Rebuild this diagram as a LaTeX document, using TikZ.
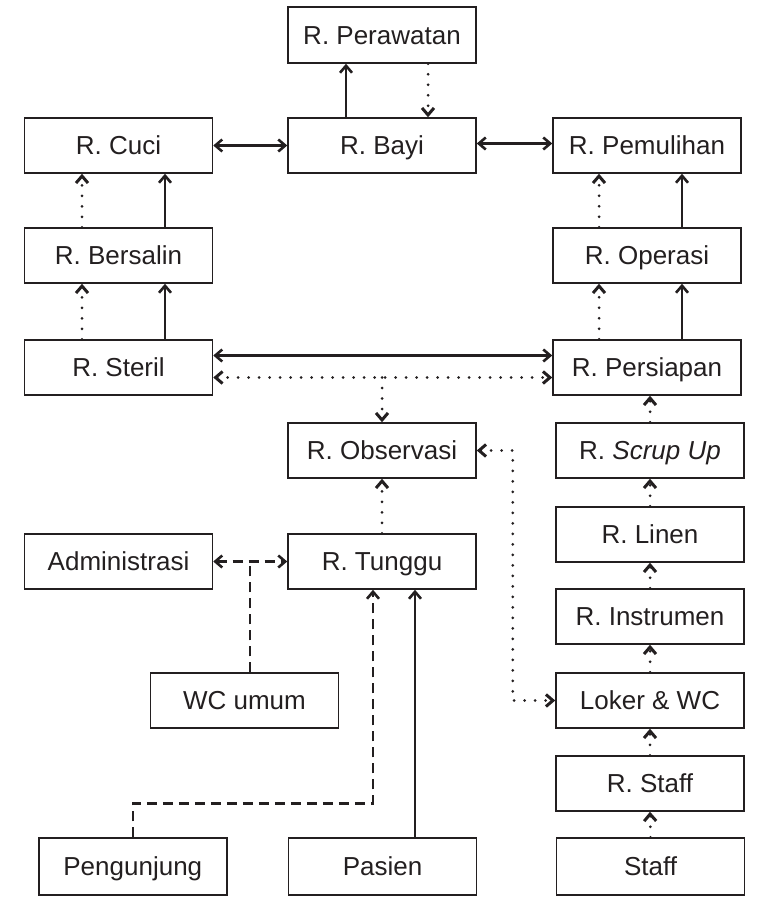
\documentclass[tikz,border=0pt]{standalone}
\usepackage{fontspec}
\setmainfont{Liberation Sans}
\usetikzlibrary{arrows.meta}
\definecolor{ink}{HTML}{231F20}
\begin{document}
\begin{tikzpicture}[x=1pt,y=-1pt,
  >={Straight Barb[length=7pt,width=12pt]},
  room/.style={draw=ink, text=ink, line width=1.5pt, minimum width=188pt,
    minimum height=55pt, inner sep=0pt,
    font=\fontsize{26}{30}\selectfont, text height=18.6pt, text depth=0pt},
  flow/.style={draw=ink, line width=2.6pt},
  dotflow/.style={draw=ink, line width=3pt, line cap=round,
    dash pattern=on 0pt off 10.5pt},
  dashflow/.style={draw=ink, line width=2.6pt, dash pattern=on 10pt off 6pt}]

\useasboundingbox (0,0) rectangle (763,899);

% rooms
\node[room, minimum height=56pt] (perawatan) at (382,35) {R. Perawatan};
\node[room] (cuci)      at (118.5,145.5) {R. Cuci};
\node[room] (bayi)      at (382,145.5)   {R. Bayi};
\node[room] (pemulihan) at (647,145.5)   {R. Pemulihan};
\node[room] (bersalin)  at (118.5,255.5) {R. Bersalin};
\node[room] (operasi)   at (647,255.5)   {R. Operasi};
\node[room] (steril)    at (118.5,367.5) {R. Steril};
\node[room] (persiapan) at (647,367.5)   {R. Persiapan};
\node[room] (observasi) at (382,450.5)   {R. Observasi};
\node[room] (scrup)     at (650,450.5)   {R. \textit{Scrup Up}};
\node[room] (linen)     at (650,534.5)   {R. Linen};
\node[room] (admin)     at (118.5,561.5) {Administrasi};
\node[room] (tunggu)    at (382,561.5)   {R. Tunggu};
\node[room] (instrumen) at (650,616.5)   {R. Instrumen};
\node[room] (wc)        at (244.5,700.5) {WC umum};
\node[room] (loker)     at (650,700.5)   {Loker \& WC};
\node[room] (rstaff)    at (650,783.5)   {R. Staff};
\node[room, minimum height=57pt] (pengunjung) at (132.8,866.5) {Pengunjung};
\node[room, minimum height=57pt] (pasien)     at (382.5,866.5) {Pasien};
\node[room, minimum height=57pt] (staff)      at (650.5,866.5) {Staff};

% top block
\draw[flow, ->] ([xshift=-36pt]bayi.north) -- ([xshift=-36pt]perawatan.south);
\draw[dotflow, ->] ([xshift=46pt]perawatan.south) -- ([xshift=46pt]bayi.north);
\draw[flow, <->] (cuci.east) -- (bayi.west);
\draw[flow, <->] ([yshift=2pt]bayi.east) -- ([yshift=2pt]pemulihan.west);

% left column
\draw[dotflow, ->] ([xshift=-36.5pt]bersalin.north) -- ([xshift=-36.5pt]cuci.south);
\draw[flow, ->] ([xshift=46.5pt]bersalin.north) -- ([xshift=46.5pt]cuci.south);
\draw[dotflow, ->] ([xshift=-36.5pt]steril.north) -- ([xshift=-36.5pt]bersalin.south);
\draw[flow, ->] ([xshift=46.5pt]steril.north) -- ([xshift=46.5pt]bersalin.south);

% right column, upper part
\draw[dotflow, ->] ([xshift=-48pt]operasi.north) -- ([xshift=-48pt]pemulihan.south);
\draw[flow, ->] ([xshift=35pt]operasi.north) -- ([xshift=35pt]pemulihan.south);
\draw[dotflow, ->] ([xshift=-48pt]persiapan.north) -- ([xshift=-48pt]operasi.south);
\draw[flow, ->] ([xshift=35pt]persiapan.north) -- ([xshift=35pt]operasi.south);

% steril <-> persiapan, with a branch down to observasi
\draw[flow, <->] ([yshift=12pt]steril.east) -- ([yshift=12pt]persiapan.west);
\coordinate (sd) at ([yshift=-10pt]steril.east);
\draw[dotflow, <->] (sd) -- (sd -| persiapan.west);
\draw[dotflow, ->] (sd -| observasi.north) -- (observasi.north);

% staff route
\draw[dotflow, ->] (scrup.north) -- (scrup.north |- persiapan.south);
\draw[dotflow, ->] (linen.north) -- (scrup.south);
\draw[dotflow, ->] (instrumen.north) -- (linen.south);
\draw[dotflow, ->] (loker.north) -- (instrumen.south);
\draw[dotflow, ->] (rstaff.north) -- (loker.south);
\draw[dotflow, ->] (staff.north) -- (rstaff.south);
\draw[dotflow, <->] (observasi.east) -- ([xshift=36pt]observasi.east) |- (loker.west);

% visitor and patient route
\draw[dotflow, ->] (tunggu.north) -- (observasi.south);
\draw[dashflow, <->] (admin.east) -- (tunggu.west);
\coordinate (wctop) at ([xshift=5.5pt]wc.north);
\draw[dashflow] (wctop) -- (wctop |- admin.east);
\draw[dashflow, ->] (pengunjung.north) -- ++(0,-34) -| ([xshift=-9pt]tunggu.south);
\coordinate (pin) at ([xshift=33pt]tunggu.south);
\draw[flow, ->] (pasien.north -| pin) -- (pin);

\end{tikzpicture}
\end{document}
